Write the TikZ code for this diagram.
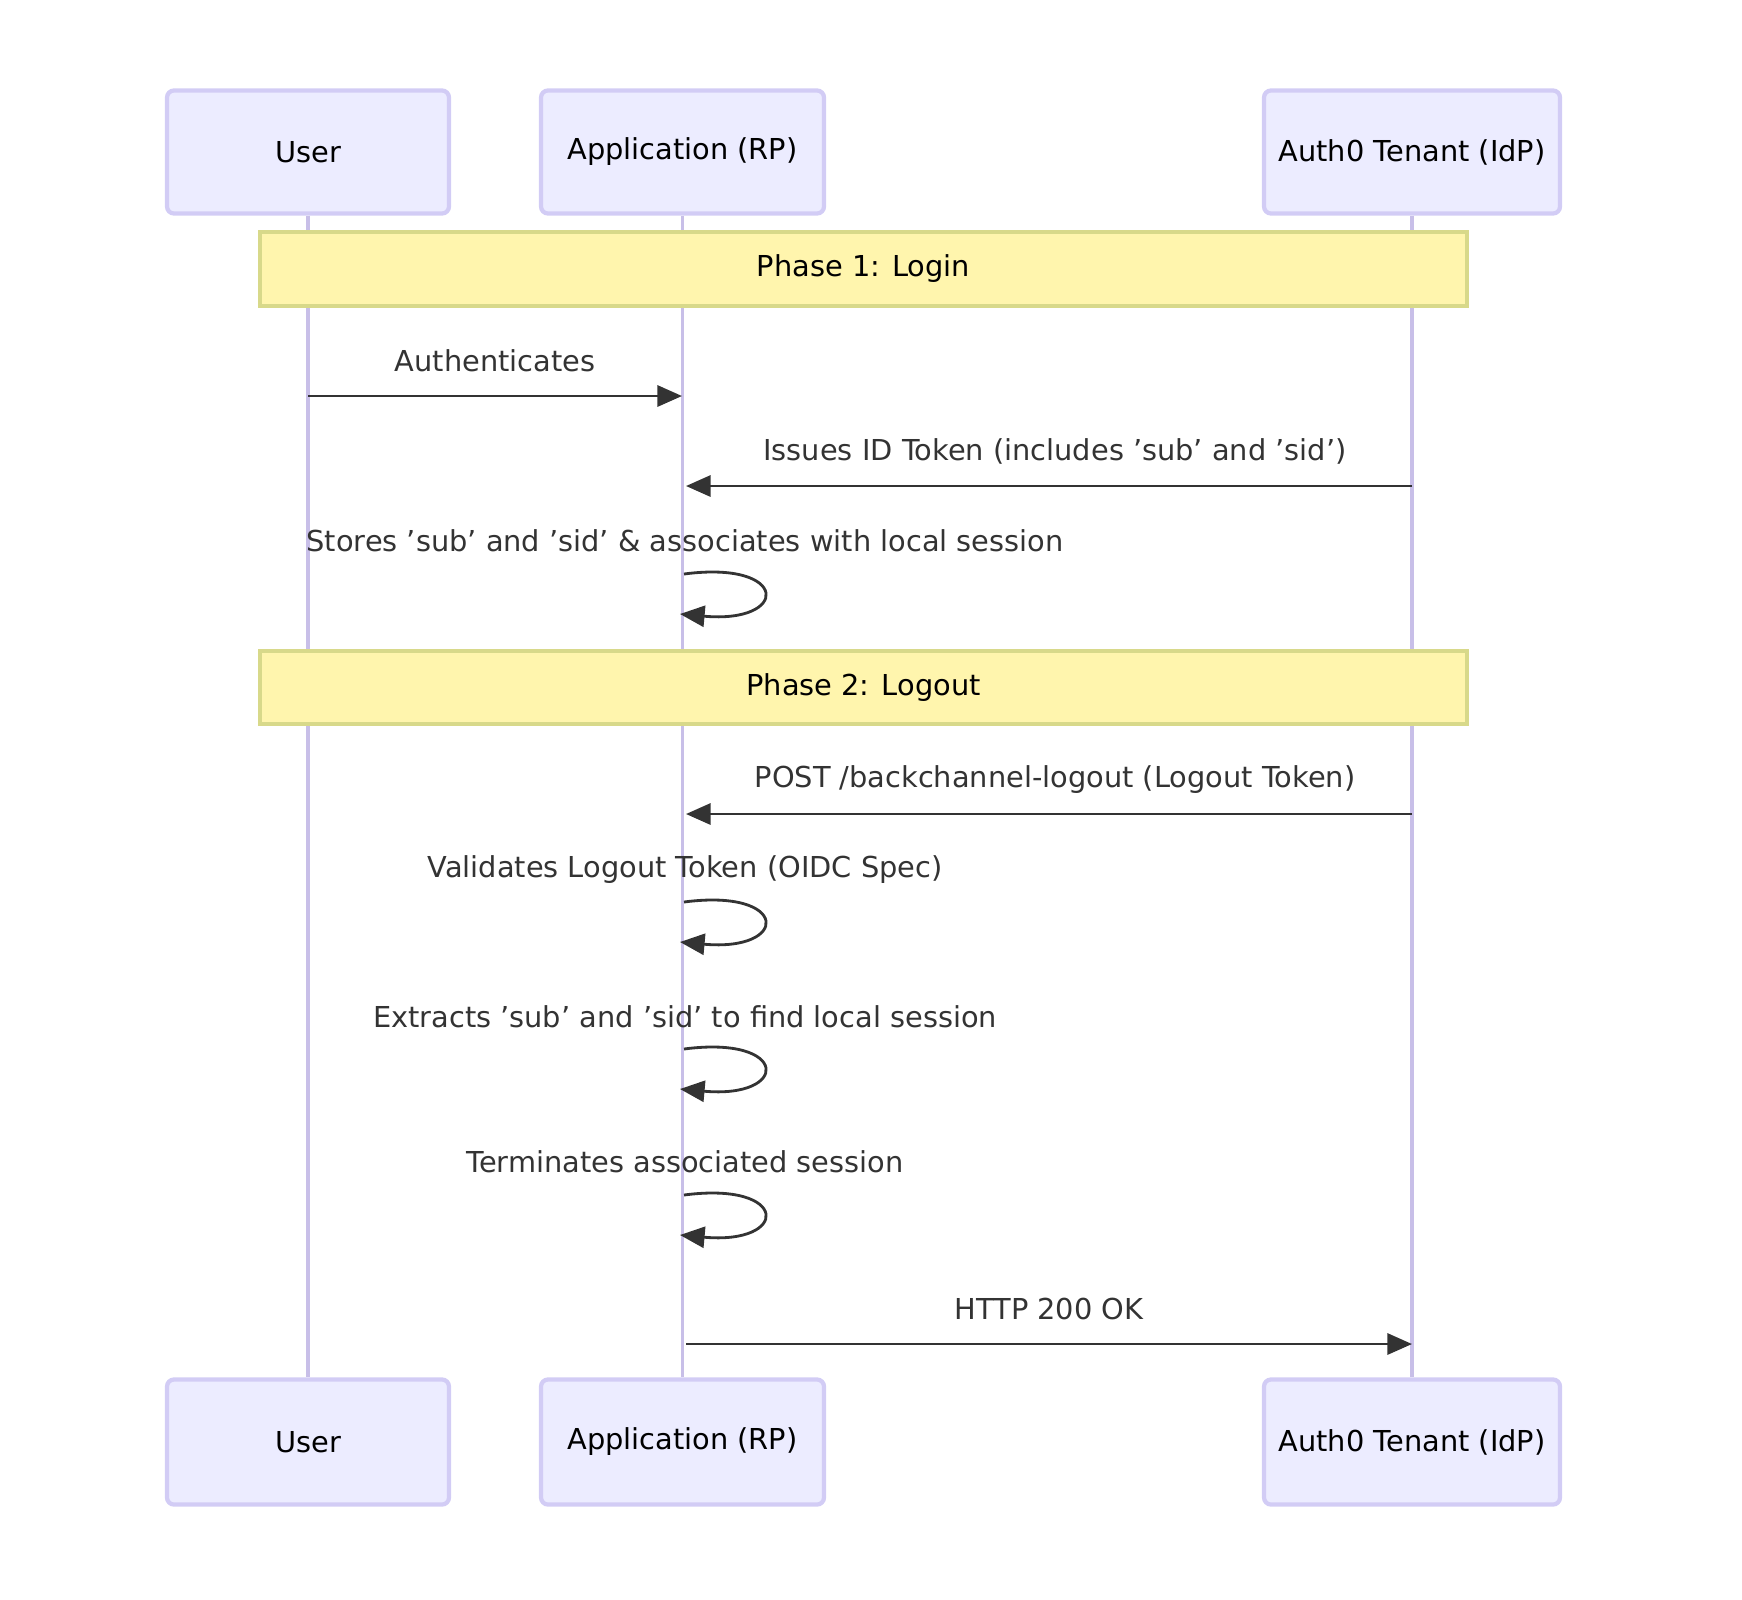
\documentclass[tikz,border=0pt]{standalone}
\usepackage{fontspec}
\setmainfont{DejaVu Sans}
\usetikzlibrary{arrows.meta}
\definecolor{actfill}{HTML}{ECECFF}
\definecolor{actdraw}{HTML}{D2CCF5}
\definecolor{lifeline}{HTML}{C8BFE8}
\definecolor{notefill}{HTML}{FFF5AD}
\definecolor{notedraw}{HTML}{D8D98A}
\definecolor{msg}{HTML}{333333}
\begin{document}
\begin{tikzpicture}[x=0.01cm,y=-0.01cm,
  actor/.style={draw=actdraw,fill=actfill,line width=1.2pt,rounded corners=2pt,minimum height=123\pgflinewidth,inner sep=0pt,font=\fontsize{8.2}{10}\selectfont},
  note/.style={draw=notedraw,fill=notefill,line width=1.2pt,inner sep=0pt,font=\fontsize{8.2}{10}\selectfont},
  life/.style={draw=lifeline,line width=1pt},
  msgl/.style={draw=msg,line width=0.8pt,-{Triangle[length=7pt,width=6pt]}},
  lbl/.style={font=\fontsize{8.2}{10}\selectfont,text=msg,inner sep=0pt}]
\useasboundingbox (0,0) rectangle (1742,1599);
% actors
\foreach \n/\a/\b/\t in {u/167/449/User,a/541/824/Application (RP),t/1264/1560/Auth0 Tenant (IdP)}{
  \node[actor,minimum width={(\b-\a)*0.01cm},minimum height=1.23cm] (\n top) at ({(\a+\b)/2},152) {\t};
  \node[actor,minimum width={(\b-\a)*0.01cm},minimum height=1.25cm] (\n bot) at ({(\a+\b)/2},1442) {\t};
}
\begin{scope}[on background layer/.style={}]
\draw[life] (utop.south) -- (ubot.north);
\draw[life] (atop.south) -- (abot.north);
\draw[life] (ttop.south) -- (tbot.north);
\end{scope}
% notes
\node[note,minimum width=12.07cm,minimum height=0.74cm] (p1) at (863.5,269) {Phase 1: Login};
\node[note,minimum width=12.07cm,minimum height=0.73cm] (p2) at (863.5,687.5) {Phase 2: Logout};
% coordinates
\coordinate (u1) at (308,396); \coordinate (a1) at (682,396);
\coordinate (t2) at (1412,486); \coordinate (a2) at (686,486);
\coordinate (t3) at (1412,814); \coordinate (a3) at (686,814);
\coordinate (a4) at (686,1344); \coordinate (t4) at (1412,1344);
\draw[msgl] (u1) -- (a1);
\node[lbl] (l1) at (495,361) {Authenticates};
\draw[msgl] (t2) -- (a2);
\node[lbl] (l2) at (1055,451) {Issues ID Token (includes 'sub' and 'sid')};
\node[lbl] (l3) at (685,541) {Stores 'sub' and 'sid' \& associates with local session};
\draw[msgl] (t3) -- (a3);
\node[lbl] (l4) at (1055,780) {POST /backchannel-logout (Logout Token)};
\node[lbl] (l5) at (685,870) {Validates Logout Token (OIDC Spec)};
\node[lbl] (l6) at (685,1017) {Extracts 'sub' and 'sid' to find local session};
\node[lbl] (l7) at (685,1162) {Terminates associated session};
\draw[msgl] (a4) -- (t4);
\node[lbl] (l8) at (1049,1309) {HTTP 200 OK};
% self loops
\foreach \y [count=\i] in {574,902,1049,1195}{
  \coordinate (s\i) at (684,\y);
  \coordinate (e\i) at (680,\y+40);
  \draw[msgl] (s\i) .. controls (790,\y-14) and (790,\y+50) .. (e\i);
}
\end{tikzpicture}
\end{document}
